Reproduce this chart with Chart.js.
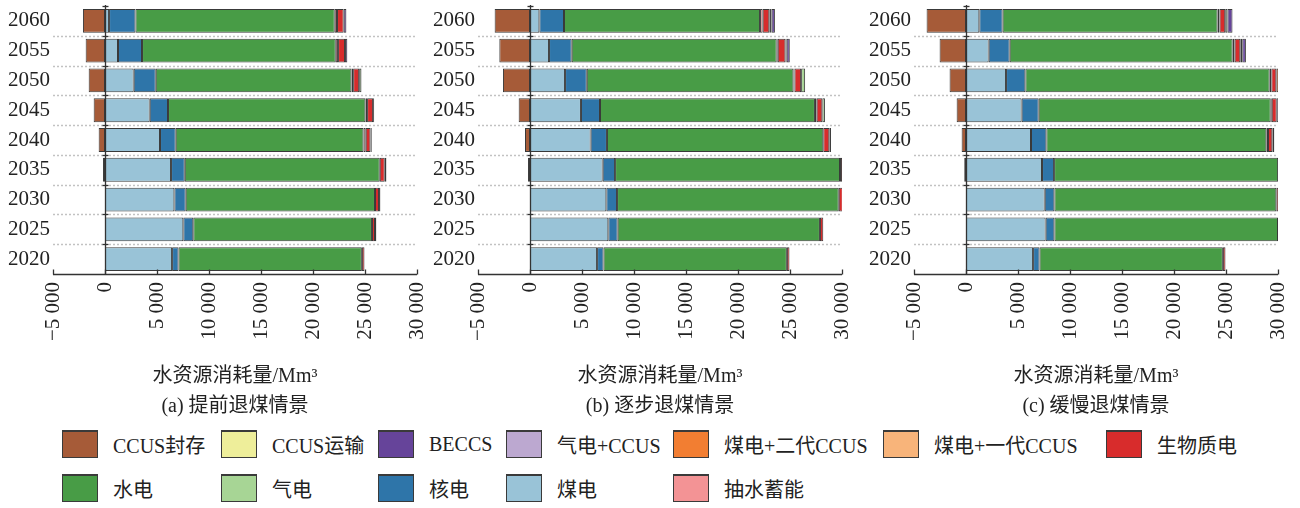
<!DOCTYPE html>
<html>
<head>
<meta charset="utf-8">
<script src="https://cdn.jsdelivr.net/npm/chart.js@4.4.1/dist/chart.umd.min.js"></script>
<style>
  html, body { margin: 0; padding: 0; background: #fff; width: 1300px; height: 508px; overflow: hidden; }
  .panel { position: absolute; top: 0; width: 460px; height: 425px; }
  .item { position: absolute; display: flex; align-items: center; height: 28px;
          font: 20px 'Liberation Serif', 'Noto Sans CJK SC', serif; color: #222; white-space: nowrap; }
  .swatch { width: 36px; height: 28px; box-sizing: border-box; border: 1.5px solid #3a3a3a;
            border-top-width: 2px; margin-right: 15px; }
</style>
</head>
<body>
<div class="panel" style="left:0px"><canvas id="chartA" width="460" height="425"></canvas></div>
<div class="panel" style="left:425px"><canvas id="chartB" width="460" height="425"></canvas></div>
<div class="panel" style="left:861px"><canvas id="chartC" width="460" height="425"></canvas></div>
<div id="legend"></div>

<script>
// Years, top to bottom
const years = ['2060', '2055', '2050', '2045', '2040', '2035', '2030', '2025', '2020'];

// Series in stacking order (CCUS storage is the negative part)
const seriesLabels = ['CCUS封存', '煤电', '核电', '水电', '抽水蓄能', '生物质电', '气电',
                      '煤电+一代CCUS', '煤电+二代CCUS', '气电+CCUS', 'BECCS', 'CCUS运输'];
const seriesColors = ['#a65b38', '#99c3d7', '#2e75a9', '#489c46', '#f39395', '#d82c2c', '#a7d595',
                      '#f8b47a', '#f27e32', '#bca8d0', '#66449a', '#eeee9a'];

// Legend layout order
const legendRow1 = ['CCUS封存', 'CCUS运输', 'BECCS', '气电+CCUS', '煤电+二代CCUS', '煤电+一代CCUS', '生物质电'];
const legendRow2 = ['水电', '气电', '核电', '煤电', '抽水蓄能'];

// Axis ticks
const tickValues = [-5000, 0, 5000, 10000, 15000, 20000, 25000, 30000];
const axisTitle = '水资源消耗量/Mm³';
const captions = ['(a) 提前退煤情景', '(b) 逐步退煤情景', '(c) 缓慢退煤情景'];

const noValue = [0, 0, 0, 0, 0, 0, 0, 0, 0];

// (a) early coal phase-out, Mm³
const earlyStorage = [-2120, -1860, -1570, -1090, -610, -190, 0, 0, 0];
const earlyCoal    = [390, 1250, 2760, 4300, 5290, 6350, 6670, 7530, 6450];
const earlyNuclear = [2540, 2310, 2120, 1760, 1510, 1320, 1090, 960, 620];
const earlyHydro   = [19160, 18630, 18820, 18980, 18050, 18750, 18200, 17180, 17630];
const earlyPumped  = [220, 220, 160, 160, 220, 0, 0, 0, 0];
const earlyBio     = [640, 670, 580, 580, 450, 480, 390, 290, 250];
const earlyGas     = [0, 0, 220, 100, 130, 160, 130, 130, 0];
const earlyBeccs   = [260, 220, 0, 0, 0, 0, 0, 0, 0];

// (b) gradual coal phase-out
const stepStorage  = [-3400, -2950, -2600, -1090, -480, -190, 0, 0, 0];
const stepCoal     = [900, 1830, 3370, 4900, 5830, 6990, 7340, 7530, 6450];
const stepNuclear  = [2370, 2180, 2090, 1830, 1570, 1190, 1030, 900, 620];
const stepHydro    = [18850, 19710, 19870, 20670, 20800, 21630, 21320, 19450, 17630];
const stepPumped   = [250, 100, 100, 160, 0, 0, 0, 0, 0];
const stepBio      = [640, 740, 640, 550, 580, 200, 385, 320, 250];
const stepGas      = [160, 120, 385, 250, 160, 60, 0, 0, 0];
const stepCoalCcus2 = [60, 0, 0, 0, 0, 0, 0, 0, 0];
const stepBeccs    = [320, 300, 0, 0, 0, 0, 0, 0, 0];

// (c) slow coal phase-out
const slowStorage  = [-3790, -2540, -1580, -900, -420, -170, 0, 0, 0];
const slowCoal     = [1280, 2180, 3850, 5350, 6250, 7310, 7570, 7660, 6450];
const slowNuclear  = [2240, 2020, 1860, 1640, 1480, 1160, 930, 840, 620];
const slowHydro    = [20670, 21440, 23490, 22310, 21150, 21540, 21340, 21500, 17630];
const slowPumped   = [190, 190, 160, 100, 160, 0, 0, 0, 0];
const slowBio      = [545, 545, 480, 480, 415, 0, 220, 0, 250];
const slowGas      = [220, 190, 0, 0, 190, 0, 0, 0, 0];
const slowCoalCcus2 = [0, 0, 220, 0, 0, 0, 0, 0, 0];
const slowGasCcus  = [0, 0, 0, 220, 0, 0, 0, 0, 0];
const slowBeccs    = [480, 350, 0, 0, 0, 0, 0, 0, 0];

// Each scenario lists its arrays in the order of seriesLabels
const scenarioEarly = [earlyStorage, earlyCoal, earlyNuclear, earlyHydro, earlyPumped, earlyBio, earlyGas,
                       noValue, noValue, noValue, earlyBeccs, noValue];
const scenarioStep  = [stepStorage, stepCoal, stepNuclear, stepHydro, stepPumped, stepBio, stepGas,
                       noValue, stepCoalCcus2, noValue, stepBeccs, noValue];
const scenarioSlow  = [slowStorage, slowCoal, slowNuclear, slowHydro, slowPumped, slowBio, slowGas,
                       noValue, slowCoalCcus2, slowGasCcus, slowBeccs, noValue];

const SERIF = "'Liberation Serif', 'Noto Sans CJK SC', serif";
const INK = '#222';

function formatTick(v) {
  const s = String(Math.abs(v)).replace(/\B(?=(\d{3})+(?!\d))/g, ' ');
  return (v < 0 ? '\u2212' : '') + s;
}

// Dotted row separators, the zero line and the bottom axis with inward ticks
const framePlugin = {
  id: 'frame',
  beforeDatasetsDraw(chart) {
    const { ctx, chartArea: a, scales: { y } } = chart;
    ctx.save();
    ctx.strokeStyle = '#c2c2c2';
    ctx.lineWidth = 1.5;
    ctx.setLineDash([2, 2]);
    for (let i = 0; i < years.length - 1; i++) {
      const yy = Math.round((y.getPixelForTick(i) + y.getPixelForTick(i + 1)) / 2) + 0.5;
      ctx.beginPath(); ctx.moveTo(a.left, yy); ctx.lineTo(a.right, yy); ctx.stroke();
    }
    ctx.restore();
  },
  afterDatasetsDraw(chart) {
    const { ctx, chartArea: a, scales: { x, y } } = chart;
    ctx.save();
    ctx.strokeStyle = '#333';
    ctx.lineWidth = 1.3;
    // zero line
    const x0 = Math.round(x.getPixelForValue(0)) + 0.5;
    ctx.beginPath(); ctx.moveTo(x0, a.top - 1); ctx.lineTo(x0, a.bottom); ctx.stroke();
    const marks = [a.top];
    for (let i = 0; i < years.length - 1; i++) {
      marks.push((y.getPixelForTick(i) + y.getPixelForTick(i + 1)) / 2);
    }
    marks.forEach(m => {
      const yy = Math.round(m) + 0.5;
      ctx.beginPath(); ctx.moveTo(x0 - 3, yy); ctx.lineTo(x0 + 3, yy); ctx.stroke();
    });
    // bottom axis
    const yb = Math.round(a.bottom) + 0.5;
    ctx.beginPath(); ctx.moveTo(x.getPixelForValue(tickValues[0]), yb);
    ctx.lineTo(x.getPixelForValue(tickValues[tickValues.length - 1]), yb); ctx.stroke();
    tickValues.forEach(v => {
      const px = Math.round(x.getPixelForValue(v)) + 0.5;
      ctx.beginPath(); ctx.moveTo(px, yb); ctx.lineTo(px, yb - 5); ctx.stroke();
    });
    ctx.restore();
  }
};

function makeChart(id, scenario, caption) {
  const datasets = seriesLabels.map((name, i) => ({
    label: name,
    data: scenario[i],
    backgroundColor: seriesColors[i],
    borderColor: 'rgba(35,35,35,0.9)',
    borderWidth: 1,
    borderSkipped: false,
    barPercentage: 0.8,
    categoryPercentage: 1
  }));
  return new Chart(document.getElementById(id), {
    type: 'bar',
    data: { labels: years, datasets },
    plugins: [framePlugin],
    options: {
      indexAxis: 'y',
      responsive: false,
      animation: false,
      layout: { padding: { top: 6, right: 43, left: 0, bottom: 0 } },
      plugins: { legend: { display: false }, tooltip: { enabled: false }, title: { display: false } },
      scales: {
        x: {
          stacked: true,
          min: -5000,
          max: 30000,
          border: { display: false },
          grid: { display: false, drawTicks: false },
          afterBuildTicks(scale) { scale.ticks = tickValues.map(v => ({ value: v })); },
          ticks: {
            autoSkip: false,
            minRotation: 90,
            maxRotation: 90,
            padding: 8,
            color: INK,
            font: { family: SERIF, size: 21 },
            callback: v => formatTick(v)
          },
          title: {
            display: true,
            text: [axisTitle, caption],
            color: INK,
            font: { family: SERIF, size: 20, lineHeight: 1.5 },
            padding: { top: 0, bottom: 3 }
          },
          afterFit(scale) {
            scale.height = 151;
            scale.paddingLeft = 0;
            scale.paddingRight = 0;
          }
        },
        y: {
          stacked: true,
          border: { display: false },
          grid: { display: false, drawTicks: false },
          ticks: { padding: 3, color: INK, font: { family: SERIF, size: 21 } },
          afterFit(scale) {
            scale.width = 53;
            scale.paddingTop = 0;
            scale.paddingBottom = 0;
          }
        }
      }
    }
  });
}

makeChart('chartA', scenarioEarly, captions[0]);
makeChart('chartB', scenarioStep, captions[1]);
makeChart('chartC', scenarioSlow, captions[2]);

// Legend
const legendCols = [62, 221, 378, 506, 673, 883, 1106];
const legendTops = [430, 474];
const legend = document.getElementById('legend');
[legendRow1, legendRow2].forEach((row, r) => {
  row.forEach((name, c) => {
    const item = document.createElement('div');
    item.className = 'item';
    item.style.left = legendCols[c] + 'px';
    item.style.top = legendTops[r] + 'px';
    const sw = document.createElement('span');
    sw.className = 'swatch';
    sw.style.background = seriesColors[seriesLabels.indexOf(name)];
    const tx = document.createElement('span');
    tx.textContent = name;
    item.appendChild(sw);
    item.appendChild(tx);
    legend.appendChild(item);
  });
});
</script>
</body>
</html>
